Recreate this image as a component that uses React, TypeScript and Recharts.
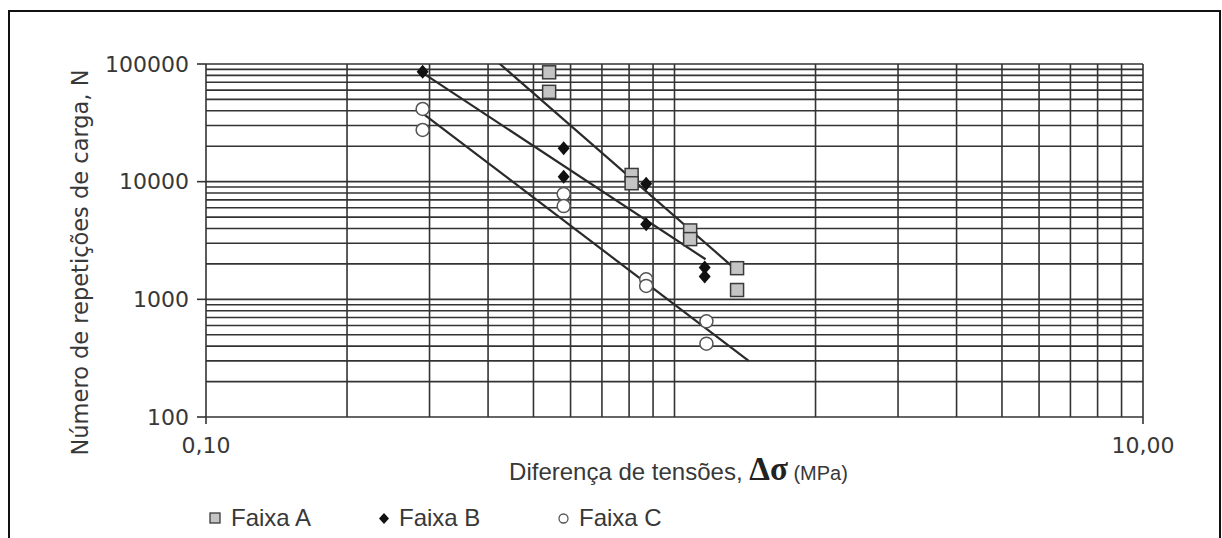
import React from "react";
import { ScatterChart, Scatter, XAxis, YAxis, ReferenceLine, Legend } from "recharts";

// axis ticks and grid values
const xTicks = [0.1, 10];
const yTicks = [100, 1000, 10000, 100000];
const xGrid = [0.2, 0.3, 0.4, 0.5, 0.6, 0.7, 0.8, 0.9, 1, 2, 3, 4, 5, 6, 7, 8, 9, 10];
const yGrid = [
  200, 300, 400, 500, 600, 700, 800, 900, 1000,
  2000, 3000, 4000, 5000, 6000, 7000, 8000, 9000, 10000,
  20000, 30000, 40000, 50000, 60000, 70000, 80000, 90000, 100000,
];

// measured points (Δσ in MPa, N)
const faixaA = [
  { x: 0.54, y: 85000 }, { x: 0.54, y: 58000 },
  { x: 0.81, y: 11400 }, { x: 0.81, y: 9700 },
  { x: 1.08, y: 3850 }, { x: 1.08, y: 3250 },
  { x: 1.36, y: 1840 }, { x: 1.36, y: 1200 },
];
const faixaB = [
  { x: 0.29, y: 86000 },
  { x: 0.58, y: 19200 }, { x: 0.58, y: 11000 },
  { x: 0.87, y: 9600 }, { x: 0.87, y: 4350 },
  { x: 1.16, y: 1860 }, { x: 1.16, y: 1560 },
];
const faixaC = [
  { x: 0.29, y: 41500 }, { x: 0.29, y: 27500 },
  { x: 0.58, y: 7850 }, { x: 0.58, y: 6200 },
  { x: 0.87, y: 1480 }, { x: 0.87, y: 1300 },
  { x: 1.17, y: 650 }, { x: 1.17, y: 420 },
];

// fitted trend lines (end points)
const trendA = [{ x: 0.417, y: 106000 }, { x: 1.35, y: 1800 }];
const trendB = [{ x: 0.29, y: 84000 }, { x: 1.165, y: 2190 }];
const trendC = [{ x: 0.29, y: 38000 }, { x: 1.44, y: 300 }];

const seriesNames = ["Faixa A", "Faixa B", "Faixa C"];
const legendLeft = [209, 377, 557];

const GRID = "#333";
const TEXT = "#383838";
const SANS = "'Liberation Sans', Arial, sans-serif";
const DEJAVU = "'DejaVu Sans', sans-serif";

const SquareDot = (p: any) => (
  <rect x={p.cx - 6.5} y={p.cy - 6.5} width={13} height={13} fill="#c4c4c4" stroke="#3a3a3a" strokeWidth={1.5} />
);
const DiamondDot = (p: any) => (
  <polygon points={`${p.cx},${p.cy - 7} ${p.cx + 6},${p.cy} ${p.cx},${p.cy + 7} ${p.cx - 6},${p.cy}`} fill="#111" />
);
const CircleDot = (p: any) => (
  <circle cx={p.cx} cy={p.cy} r={6.5} fill="#fff" stroke="#555" strokeWidth={1.5} />
);
const NoDot = () => <g />;

function LegendMarker({ i }: { i: number }) {
  return (
    <svg width={14} height={16} style={{ display: "block" }}>
      {i === 0 && <rect x={1} y={3} width={10} height={10} fill="#c4c4c4" stroke="#3a3a3a" strokeWidth={1.3} />}
      {i === 1 && <polygon points="7,3 12,8.5 7,14 2,8.5" fill="#111" />}
      {i === 2 && <circle cx={6.5} cy={8.5} r={4.5} fill="#fff" stroke="#555" strokeWidth={1.3} />}
    </svg>
  );
}

function LegendBox() {
  return (
    <div style={{ position: "relative", width: 600, height: 30 }}>
      {seriesNames.map((n, i) => (
        <div
          key={n}
          style={{
            position: "absolute", left: legendLeft[i] - 200, top: 0, height: 30,
            display: "flex", alignItems: "center", gap: 8,
            fontFamily: SANS, fontSize: 24, color: TEXT, whiteSpace: "nowrap",
          }}
        >
          <LegendMarker i={i} />
          <span>{n}</span>
        </div>
      ))}
    </div>
  );
}

const YTitle = (props: any) => {
  const vb = props.viewBox || { x: 6, y: 64, width: 200, height: 353 };
  const cx = vb.x + 74;
  const cy = vb.y + vb.height / 2 + 22;
  return (
    <text x={cx} y={cy} transform={`rotate(-90 ${cx} ${cy})`} textAnchor="middle" dominantBaseline="central"
      fill={TEXT} fontFamily={DEJAVU} fontSize={22.5}>
      Número de repetições de carga, N
    </text>
  );
};

const XTitle = (props: any) => {
  const vb = props.viewBox || { x: 206, y: 417, width: 937, height: 60 };
  return (
    <text x={vb.x + vb.width / 2 + 4} y={vb.y + 63} textAnchor="middle" fill={TEXT} fontFamily={SANS} fontSize={24}>
      Diferença de tensões,{" "}
      <tspan fontFamily="'Liberation Serif', serif" fontSize={33} fontWeight="bold" fill="#222">Δσ</tspan>
      <tspan fontSize={20}> (MPa)</tspan>
    </text>
  );
};

export default function App() {
  return (
    <div style={{ position: "absolute", left: 0, top: 0, width: 1222, height: 538, overflow: "hidden", background: "#fff" }}>
      <div style={{
        position: "absolute", left: 8, top: 10, width: 1213, height: 560,
        border: "2px solid #111", boxSizing: "border-box",
      }} />
      <div style={{ position: "absolute", left: 0, top: 0 }}>
        <ScatterChart width={1222} height={538} margin={{ top: 64, right: 79, left: 6, bottom: 61 }}>
          <XAxis
            dataKey="x" type="number" scale="log" domain={[0.1, 10]} allowDataOverflow
            ticks={xTicks} interval={0} height={60}
            tickFormatter={(v: number) => v.toFixed(2).replace(".", ",")}
            tick={{ fill: TEXT, fontSize: 22, fontFamily: DEJAVU }}
            tickSize={7} tickMargin={13}
            tickLine={{ stroke: GRID, strokeWidth: 1.6 }}
            axisLine={{ stroke: GRID, strokeWidth: 1.6 }}
            label={{ content: XTitle }}
          />
          <YAxis
            dataKey="y" type="number" scale="log" domain={[100, 100000]} allowDataOverflow
            ticks={yTicks} interval={0} width={200}
            tick={{ fill: TEXT, fontSize: 22, fontFamily: DEJAVU }}
            tickSize={9} tickMargin={8}
            tickLine={{ stroke: GRID, strokeWidth: 1.6 }}
            axisLine={{ stroke: GRID, strokeWidth: 1.6 }}
            label={{ content: YTitle }}
          />
          {xGrid.map(v => (
            <ReferenceLine key={"vx" + v} x={v} stroke={GRID} strokeWidth={1.6} />
          ))}
          {yGrid.map(v => (
            <ReferenceLine key={"hy" + v} y={v} stroke={GRID} strokeWidth={1.6} />
          ))}
          <Legend
            layout="horizontal" verticalAlign="middle"
            wrapperStyle={{ position: "absolute", left: 200, top: 503, width: 600, height: 30 }}
            content={() => <LegendBox />}
          />
          <Scatter name="Tendência A" data={trendA} line={{ stroke: "#2a2a2a", strokeWidth: 2.2 }} shape={NoDot} legendType="none" isAnimationActive={false} />
          <Scatter name="Tendência B" data={trendB} line={{ stroke: "#2a2a2a", strokeWidth: 2.2 }} shape={NoDot} legendType="none" isAnimationActive={false} />
          <Scatter name="Tendência C" data={trendC} line={{ stroke: "#2a2a2a", strokeWidth: 2.2 }} shape={NoDot} legendType="none" isAnimationActive={false} />
          <Scatter name={seriesNames[0]} data={faixaA} shape={SquareDot} isAnimationActive={false} />
          <Scatter name={seriesNames[1]} data={faixaB} shape={DiamondDot} isAnimationActive={false} />
          <Scatter name={seriesNames[2]} data={faixaC} shape={CircleDot} isAnimationActive={false} />
        </ScatterChart>
      </div>
    </div>
  );
}
